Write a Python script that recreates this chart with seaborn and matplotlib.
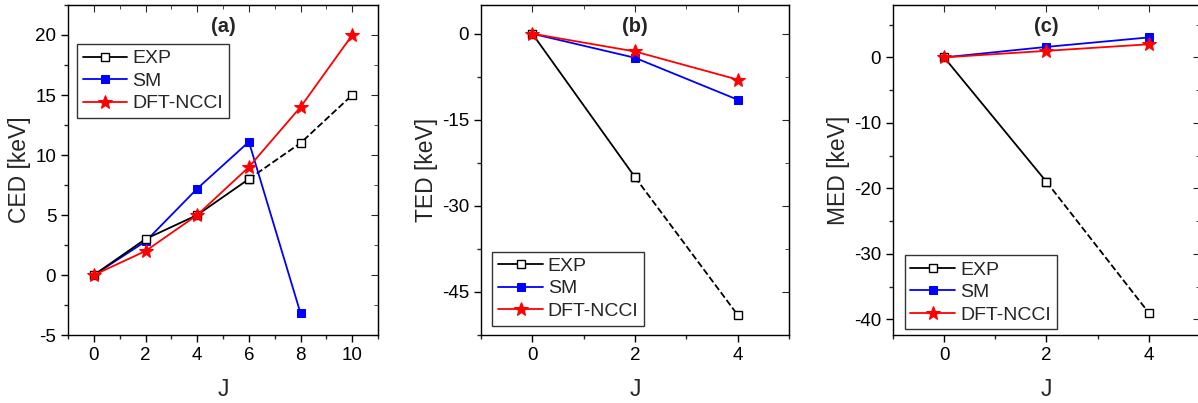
import numpy as np
import pandas as pd
import seaborn as sns
import matplotlib.pyplot as plt
from matplotlib.ticker import AutoMinorLocator, MultipleLocator

# panel (a) CED
j_a = [0, 2, 4, 6, 8, 10]
ced_exp = [0, 3, 5, 8, 11, 15]
ced_sm = [0, 2.8, 7.2, 11.1, -3.2]
ced_dft = [0, 2, 5, 9, 14, 20]

# panel (b) TED
j_b = [0, 2, 4]
ted_exp = [0, -25, -49]
ted_sm = [0, -4.2, -11.5]
ted_dft = [0, -3.1, -8]

# panel (c) MED
j_c = [0, 2, 4]
med_exp = [0, -19, -39]
med_sm = [0, 1.6, 3.05]
med_dft = [0, 1.0, 2.0]

sns.set_style("ticks")
plt.rcParams['font.family'] = ['Liberation Sans', 'DejaVu Sans']
plt.rcParams['axes.unicode_minus'] = False

fig = plt.figure(figsize=(11.98, 4.03), dpi=100)
bottom, height = 0.1687, 0.8189
axes = [fig.add_axes([0.0568, bottom, 0.2588, height]),
        fig.add_axes([0.4015, bottom, 0.2571, height]),
        fig.add_axes([0.7454, bottom, 0.2562, height])]

panels = [
    (axes[0], j_a, ced_exp, ced_sm, ced_dft, 3, 'CED [keV]', '(a)',
     (-1, 11), (-5, 22.5), 2, 5, 'upper left', (0.028, 0.882)),
    (axes[1], j_b, ted_exp, ted_sm, ted_dft, 1, 'TED [keV]', '(b)',
     (-1, 5), (-52.5, 5), 2, 15, 'lower left', (0.037, 0.028)),
    (axes[2], j_c, med_exp, med_sm, med_dft, 1, 'MED [keV]', '(c)',
     (-1, 5), (-42.4, 8), 2, 10, 'lower left', (0.038, 0.017)),
]

for ax, j, exp, sm, dft, cut, ylab, tag, xl, yl, xstep, ystep, loc, anchor in panels:
    exp_df = pd.DataFrame({'J': j, 'val': exp})
    sm_df = pd.DataFrame({'J': j[:len(sm)], 'val': sm})
    dft_df = pd.DataFrame({'J': j, 'val': dft})

    # dashed extension of the experimental data
    sns.lineplot(data=exp_df.iloc[cut:], x='J', y='val', ax=ax, color='black',
                 linestyle='--', lw=1.3, marker='s', markersize=6,
                 markerfacecolor='white', markeredgecolor='black', mew=1.0,
                 label='_nolegend_', zorder=3)
    sns.lineplot(data=sm_df, x='J', y='val', ax=ax, color='blue', lw=1.3,
                 marker='s', markersize=6, markeredgecolor='blue', label='SM', zorder=3)
    sns.lineplot(data=exp_df.iloc[:cut + 1], x='J', y='val', ax=ax, color='black',
                 lw=1.3, marker='s', markersize=6, markerfacecolor='white',
                 markeredgecolor='black', mew=1.0, label='EXP', zorder=4)
    sns.lineplot(data=dft_df, x='J', y='val', ax=ax, color='red', lw=1.3,
                 marker='*', markersize=10, markeredgecolor='red', label='DFT-NCCI', zorder=5)

    ax.set_xlim(xl)
    ax.set_ylim(yl)
    ax.xaxis.set_major_locator(MultipleLocator(xstep))
    ax.yaxis.set_major_locator(MultipleLocator(ystep))
    ax.xaxis.set_minor_locator(AutoMinorLocator(2))
    ax.yaxis.set_minor_locator(AutoMinorLocator(2))
    ax.tick_params(which='major', direction='out', length=5, width=1, labelsize=13.5, colors='black')
    ax.tick_params(which='minor', direction='out', length=3, width=1)
    for s in ax.spines.values():
        s.set_visible(True)
        s.set_linewidth(1.0)
        s.set_color('black')

    top = ax.secondary_xaxis('top')
    top.xaxis.set_major_locator(MultipleLocator(xstep))
    top.xaxis.set_minor_locator(AutoMinorLocator(2))
    top.tick_params(which='major', direction='in', length=5, labeltop=False)
    top.tick_params(which='minor', direction='in', length=3)
    right = ax.secondary_yaxis('right')
    right.yaxis.set_major_locator(MultipleLocator(ystep))
    right.yaxis.set_minor_locator(AutoMinorLocator(2))
    right.tick_params(which='major', direction='in', length=5, labelright=False)
    right.tick_params(which='minor', direction='in', length=3)

    ax.set_xlabel('J', fontsize=16.5, labelpad=10)
    ax.set_ylabel(ylab, fontsize=16.5, labelpad=3)
    ax.text(0.5, 0.965, tag, transform=ax.transAxes, ha='center', va='top',
            fontsize=14.5, fontweight='bold')

    handles, labels = ax.get_legend_handles_labels()
    order = [labels.index(n) for n in ['EXP', 'SM', 'DFT-NCCI']]
    leg = ax.legend([handles[i] for i in order], [labels[i] for i in order],
                    loc=loc, bbox_to_anchor=anchor, fontsize=14, frameon=True,
                    fancybox=False, edgecolor='black', handlelength=2.3,
                    handletextpad=0.25, borderpad=0.3, labelspacing=0.25,
                    borderaxespad=0.0, markerscale=1.0)
    leg.get_frame().set_linewidth(1.0)

fig.savefig('out.png', dpi=100)
